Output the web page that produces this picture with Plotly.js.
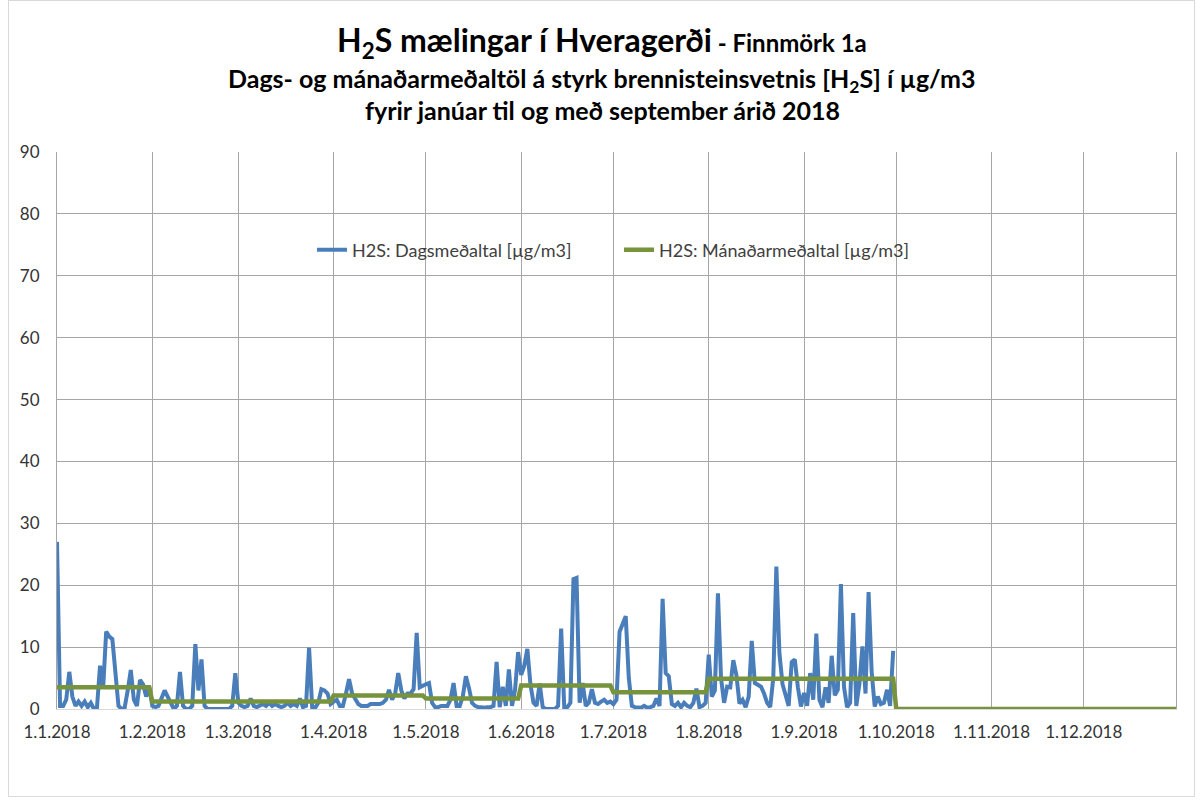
<!DOCTYPE html>
<html><head><meta charset="utf-8">
<script src="https://cdn.plot.ly/plotly-3.0.1.min.js"></script>
<style>
html,body{margin:0;padding:0;background:#fff;}
#chart{position:absolute;left:0;top:0;width:1202px;height:803px;}
#frame{position:absolute;left:8px;top:0px;width:1187px;height:797px;border:1px solid #d9d9d9;box-sizing:border-box;pointer-events:none;}
</style>
</head><body>
<div id="chart"></div><div id="frame"></div>
<script>
// ---- data ----
const monthStarts = ['2018-01-01','2018-02-01','2018-03-01','2018-04-01','2018-05-01','2018-06-01',
                     '2018-07-01','2018-08-01','2018-09-01','2018-10-01','2018-11-01','2018-12-01'];
const tickLabels = ['1.1.2018','1.2.2018','1.3.2018','1.4.2018','1.5.2018','1.6.2018',
                    '1.7.2018','1.8.2018','1.9.2018','1.10.2018','1.11.2018','1.12.2018'];
const yTicks = [0,10,20,30,40,50,60,70,80,90];

// daily means (µg/m3), Jan 1 .. Sep 30 2018
const dailyJan = [27,0.5,0.5,1.5,6,2,0.5,1.2,0.5,1.2,0.3,1,0,0.2,7,3.3,12.5,11.7,11.3,5,0.5,0,0.2,3,6.3,1.5,0.5,4.7,4,2,3.5];
const dailyFeb = [0.5,0.3,0.5,2,3,2,1,0,0.5,6,0.5,0,0,0.5,10.5,3,8,0.5,0,0,0,0,0,0,0,0,0.5,5.8];
const dailyMar = [1,0.5,0.3,0.5,1.7,0.5,0.3,0.5,0.8,0.5,1,0.5,0.8,0.5,0.3,0.5,1,0.5,0.8,0.5,1.7,0.3,0.5,9.9,0.3,0.2,1,3.2,3,2.5,0.8];
const dailyApr = [1.2,1.5,0.5,0.5,2.5,4.8,2.5,1.5,0.8,0.5,0.5,0.5,0.8,0.8,0.8,0.8,1,1.5,3.1,1.5,2.5,5.8,3,1.7,2.5,2.5,3.2,12.3,3.5,3.8];
const dailyMay = [4,4.2,1,0.3,0.3,0.5,0.5,0.5,1.5,4.2,0.5,0.5,2,5.3,3.4,1,0.5,0.3,0.3,0.2,0.3,0.3,0.5,7.6,0.3,3.6,0.5,6.4,0.5,3.1,9.2];
const dailyJun = [5.5,7,9.7,4,1,0.5,4.1,0.3,0,0,0,0,0.5,13,0.3,0.3,1,21,21.2,1,4.2,0.5,1,3.2,1,0.8,1.2,1.5,1,1.2];
const dailyJul = [0.8,1.5,12.5,14,15,5,0.5,0.3,0.3,0.2,0.5,0.2,0.3,0.5,1.7,0.5,17.8,5.8,5.3,0.8,0.5,1,0.3,1,0.5,0.3,1,3.3,0.3,0.5,1];
const dailyAug = [8.8,2,3,18.7,5,1,3.6,3.5,7.9,5.5,0.9,1.5,0.3,2,11,4.2,3.8,3.6,2.5,1,0.3,5,23,9,4,2,0.5,7.6,8,3.5,0.4];
const dailySep = [2.6,0.5,5.8,1.5,12.2,1.5,0.3,3.5,1,8.6,2.2,3.1,20.2,3.6,0.3,1,15.5,0.5,4,10.1,2.5,18.9,6,0.4,2,0.8,1,3.1,0.5,9.4];

// monthly means (µg/m3), Jan .. Dec 2018
const monthlyMean = [3.5,1.2,1.2,2.2,1.7,3.8,2.7,4.9,4.9,0,0,0];

const seriesNames = ['H2S: Dagsmeðaltal [µg/m3]','H2S: Mánaðarmeðaltal [µg/m3]'];

// ---- build traces ----
function iso(d){ return d.toISOString().slice(0,10); }
const daily = [].concat(dailyJan,dailyFeb,dailyMar,dailyApr,dailyMay,dailyJun,dailyJul,dailyAug,dailySep);
const dailyX = daily.map((v,i)=>iso(new Date(Date.UTC(2018,0,1+i))));
const monX=[], monY=[];
for(let i=0;i<365;i++){
  const dt=new Date(Date.UTC(2018,0,1+i));
  monX.push(iso(dt)); monY.push(monthlyMean[dt.getUTCMonth()]);
}

const traces = [
  {x:dailyX, y:daily, type:'scatter', mode:'lines', name:seriesNames[0],
   line:{color:'#4A7EBB', width:4}, hoverinfo:'x+y'},
  {x:monX, y:monY, type:'scatter', mode:'lines', name:seriesNames[1],
   line:{color:'#77933C', width:4.5}, hoverinfo:'x+y'}
];

const PL=57, PR=1176, PT=152, PB=709, PH=PB-PT, PW=PR-PL;
function py(p){ return (PB-p)/PH; }
function px(p){ return (p-PL)/PW; }

const layout = {
  width:1202, height:803,
  margin:{l:PL, r:1202-PR, t:PT, b:803-PB, pad:0},
  paper_bgcolor:'#ffffff', plot_bgcolor:'#ffffff',
  font:{family:'Lato, "Open Sans", sans-serif', color:'#333333', size:17},
  showlegend:true,
  legend:{orientation:'h', x:px(312), xanchor:'left', y:py(250), yanchor:'middle',
          entrywidth:262, entrywidthmode:'pixels',
          font:{size:18, color:'#404040'}, bgcolor:'rgba(0,0,0,0)', traceorder:'normal'},
  xaxis:{type:'date', range:['2018-01-01','2018-12-31'], tickmode:'array',
         tickvals:monthStarts, ticktext:tickLabels, showgrid:true, gridcolor:'#a6a6a6', gridwidth:1,
         showline:true, linecolor:'#d9d9d9', linewidth:1, ticks:'', ticklabelstandoff:8,
         tickfont:{size:17, color:'#333333'}, zeroline:false, fixedrange:true},
  yaxis:{range:[0,90], tickmode:'array', tickvals:yTicks, ticktext:yTicks.map(String),
         showgrid:true, gridcolor:'#a6a6a6', gridwidth:1, showline:true, mirror:true,
         linecolor:'#a6a6a6', linewidth:1, zeroline:false, ticks:'', ticklabelstandoff:13,
         tickfont:{size:17, color:'#333333'}, fixedrange:true},
  annotations:[
    {xref:'paper', yref:'paper', x:px(602), y:py(42), xanchor:'center', yanchor:'middle', showarrow:false,
     text:'<b>H<sub>2</sub>S mælingar í Hveragerði</b><span style="font-size:24px"><b> - Finnmörk 1a</b></span>',
     font:{size:32, color:'#000000'}},
    {xref:'paper', yref:'paper', x:px(601), y:py(80), xanchor:'center', yanchor:'middle', showarrow:false,
     text:'<b>Dags- og mánaðarmeðaltöl á styrk brennisteinsvetnis [H<sub>2</sub>S] í µg/m3</b>',
     font:{size:25, color:'#000000'}},
    {xref:'paper', yref:'paper', x:px(602), y:py(110), xanchor:'center', yanchor:'middle', showarrow:false,
     text:'<b>fyrir janúar til og með september árið 2018</b>',
     font:{size:25, color:'#000000'}}
  ]
};

Plotly.newPlot('chart', traces, layout, {displayModeBar:false, staticPlot:true});
</script>
</body></html>
